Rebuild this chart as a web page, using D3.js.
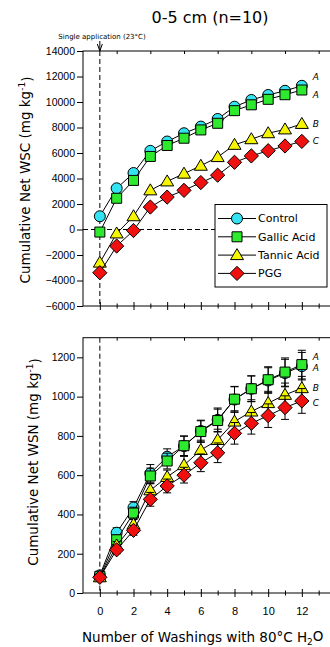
<!DOCTYPE html>
<html>
<head>
<meta charset="utf-8">
<script src="https://cdn.jsdelivr.net/npm/d3@7"></script>
<style>
  body { margin: 0; background: #fff; }
  svg { display: block; font-family: "DejaVu Sans", sans-serif; }
  .axis path, .axis line { stroke: #000; }
  .axis text { font-size: 10.5px; fill: #000; }
</style>
</head>
<body>
<div id="chart"></div>
<script>
// washings (x values)
var washings = [0, 1, 2, 3, 4, 5, 6, 7, 8, 9, 10, 11, 12];
var seriesNames = ["Control", "Gallic Acid", "Tannic Acid", "PGG"];

// cumulative net WSC (mg/kg), top panel
var wscControl = [1040, 3230, 4430, 6170, 6900, 7550, 8070, 8670, 9630, 10160, 10550, 10880, 11270];
var wscGallic  = [-200, 2450, 3850, 5730, 6590, 7160, 7810, 8330, 9320, 9780, 10210, 10570, 10940];
var wscTannic  = [-2600, -310, 1040, 3070, 3770, 4380, 5000, 5680, 6640, 7080, 7550, 7850, 8280];
var wscPGG     = [-3390, -1300, -80, 1760, 2540, 3070, 3680, 4260, 5270, 5770, 6180, 6550, 6910];

// cumulative net WSN (mg/kg), bottom panel, with error bars
var wsnControl = [90, 307, 435, 609, 694, 748, 825, 882, 985, 1040, 1082, 1120, 1155];
var wsnGallic  = [85, 271, 407, 596, 672, 750, 822, 878, 987, 1040, 1086, 1125, 1163];
var wsnTannic  = [80, 242, 349, 523, 591, 651, 728, 779, 873, 924, 967, 1009, 1043];
var wsnPGG     = [80, 220, 319, 477, 545, 600, 663, 714, 813, 864, 903, 944, 978];
var errControl = [10, 25, 30, 45, 40, 50, 55, 60, 65, 65, 65, 70, 70];
var errGallic  = [10, 25, 30, 40, 40, 50, 55, 58, 65, 66, 66, 72, 73];
var errTannic  = [10, 20, 25, 35, 35, 45, 50, 55, 55, 60, 60, 60, 60];
var errPGG     = [10, 20, 25, 35, 35, 40, 45, 50, 55, 55, 60, 60, 63];

// significance letters at the end of the curves
var letters = ["A", "A", "B", "C"];
var wscLetterY = [11980, 10600, 8270, 6960];
var wsnLetterY = [1203, 1146, 1045, 969];

var wscTicks = [-6000, -4000, -2000, 0, 2000, 4000, 6000, 8000, 10000, 12000, 14000];
var wsnTicks = [0, 200, 400, 600, 800, 1000, 1200];
var xLabelTicks = [0, 2, 4, 6, 8, 10, 12];

var colors = ["#33e3f2", "#2eea2e", "#f5f500", "#f01010"];
var symbols = [d3.symbolCircle, d3.symbolSquare, d3.symbolTriangle, d3.symbolDiamond];
var symSizes = [95, 100, 75, 85];

var width = 330, height = 647;
var svg = d3.select("#chart").append("svg")
  .attr("width", width)
  .attr("height", height);

var x = d3.scaleLinear().domain([-1, 14]).range([83, 335.5]);
var yTop = d3.scaleLinear().domain([-6000, 14000]).range([306, 51]);
var yBot = d3.scaleLinear().domain([0, 1300]).range([593, 337.7]);

function symbolPath(i) {
  // diamond in the original is a rotated square
  if (symbols[i] === d3.symbolDiamond) {
    var s = Math.sqrt(symSizes[i] * 2) / 2 + 0.6;
    return "M0," + (-s) + "L" + s + ",0L0," + s + "L" + (-s) + ",0Z";
  }
  if (symbols[i] === d3.symbolTriangle) {
    return "M0,-6.5L6.5,4.5L-6.5,4.5Z";
  }
  return d3.symbol().type(symbols[i]).size(symSizes[i])();
}

function drawPanel(y, ticks, seriesData, errData, letterY, showXLabels) {
  var x0 = x.range()[0], x1 = x.range()[1];
  var yb = y.range()[0], yt = y.range()[1];

  // frame
  svg.append("rect")
    .attr("x", x0).attr("y", yt)
    .attr("width", x1 - x0).attr("height", yb - yt)
    .attr("fill", "none").attr("stroke", "#000").attr("stroke-width", 1);

  // left axis
  svg.append("g")
    .attr("class", "axis")
    .attr("transform", "translate(" + x0 + ",0)")
    .call(d3.axisLeft(y).tickValues(ticks).tickSize(6).tickPadding(2).tickFormat(d3.format("d")))
    .call(function(g) { g.select(".domain").remove(); });

  // bottom axis: major ticks at even, minor at odd, crossing the line
  var evens = [0, 2, 4, 6, 8, 10, 12, 14];
  var odds = [1, 3, 5, 7, 9, 11, 13];
  var bx = svg.append("g")
    .attr("class", "axis")
    .attr("transform", "translate(0," + yb + ")")
    .call(d3.axisBottom(x).tickValues(evens).tickSize(4).tickFormat(""));
  bx.select(".domain").remove();
  bx.selectAll(".tick line").attr("y1", -4).attr("y2", 4);
  var bm = svg.append("g")
    .attr("class", "axis")
    .attr("transform", "translate(0," + yb + ")")
    .call(d3.axisBottom(x).tickValues(odds).tickSize(3).tickFormat(""));
  bm.select(".domain").remove();
  bm.selectAll(".tick line").attr("y1", -2.5).attr("y2", 2.5);

  if (showXLabels) {
    svg.append("g")
      .attr("class", "axis")
      .attr("transform", "translate(0," + (yb + 10) + ")")
      .call(d3.axisBottom(x).tickValues(xLabelTicks).tickSize(0).tickPadding(4))
      .call(function(g) { g.select(".domain").remove(); })
      .selectAll("text").style("font-size", "11px");
  }

  // top border ticks, inward at odd values
  var tx = svg.append("g")
    .attr("class", "axis")
    .attr("transform", "translate(0," + yt + ")")
    .call(d3.axisTop(x).tickValues(odds).tickSize(-3).tickFormat(""));
  tx.select(".domain").remove();

  // vertical dashed line at washing 0
  svg.append("line")
    .attr("x1", x(0)).attr("x2", x(0))
    .attr("y1", yt).attr("y2", yb)
    .attr("stroke", "#000").attr("stroke-width", 1)
    .attr("stroke-dasharray", "5,3");

  var line = d3.line()
    .x(function(d) { return x(d[0]); })
    .y(function(d) { return y(d[1]); });

  seriesData.forEach(function(vals, i) {
    var pts = d3.zip(washings, vals);
    var g = svg.append("g");
    g.append("path")
      .attr("d", line(pts))
      .attr("fill", "none").attr("stroke", "#000").attr("stroke-width", 1);
    if (errData) {
      var errs = errData[i];
      pts.forEach(function(d, k) {
        var hi = y(d[1] + errs[k]), lo = y(d[1] - errs[k]);
        g.append("line")
          .attr("x1", x(d[0])).attr("x2", x(d[0]))
          .attr("y1", hi).attr("y2", lo)
          .attr("stroke", "#000").attr("stroke-width", 1);
        [hi, lo].forEach(function(yy) {
          g.append("line")
            .attr("x1", x(d[0]) - 4).attr("x2", x(d[0]) + 4)
            .attr("y1", yy).attr("y2", yy)
            .attr("stroke", "#000").attr("stroke-width", 1);
        });
      });
    }
    g.selectAll("path.pt")
      .data(pts)
      .enter().append("path")
      .attr("class", "pt")
      .attr("d", symbolPath(i))
      .attr("transform", function(d) { return "translate(" + x(d[0]) + "," + y(d[1]) + ")"; })
      .attr("fill", colors[i])
      .attr("stroke", "#000").attr("stroke-width", 1);
  });

  letters.forEach(function(l, i) {
    svg.append("text")
      .attr("x", x(12) + 11)
      .attr("y", y(letterY[i]))
      .attr("dy", "0.35em")
      .style("font-size", "9px")
      .style("font-style", "italic")
      .text(l);
  });
}

// title
svg.append("text")
  .attr("x", 210).attr("y", 23)
  .attr("text-anchor", "middle")
  .style("font-size", "16px")
  .text("0-5 cm (n=10)");

// top panel: horizontal dashed zero line (under the legend)
svg.append("line")
  .attr("x1", x.range()[0]).attr("x2", 215)
  .attr("y1", yTop(0)).attr("y2", yTop(0))
  .attr("stroke", "#000").attr("stroke-width", 1)
  .attr("stroke-dasharray", "5,3");

drawPanel(yTop, wscTicks, [wscControl, wscGallic, wscTannic, wscPGG], null, wscLetterY, false);
drawPanel(yBot, wsnTicks, [wsnControl, wsnGallic, wsnTannic, wsnPGG],
  [errControl, errGallic, errTannic, errPGG], wsnLetterY, true);

// arrow for single application
svg.append("text")
  .attr("x", 102).attr("y", 39)
  .attr("text-anchor", "middle")
  .style("font-size", "7px")
  .text("Single application (23°C)");
svg.append("line")
  .attr("x1", x(0)).attr("x2", x(0))
  .attr("y1", 41).attr("y2", 51)
  .attr("stroke", "#000");
svg.append("path")
  .attr("d", "M" + (x(0) - 2.5) + ",44L" + x(0) + ",51L" + (x(0) + 2.5) + ",44")
  .attr("fill", "none").attr("stroke", "#000");

// legend
var legend = svg.append("g").attr("transform", "translate(215,204.5)");
legend.append("rect")
  .attr("width", 112).attr("height", 82.5)
  .attr("fill", "#fff").attr("stroke", "#000").attr("stroke-width", 1);
seriesNames.forEach(function(name, i) {
  var ly = 14 + i * 18.3;
  legend.append("line")
    .attr("x1", 3).attr("x2", 41)
    .attr("y1", ly).attr("y2", ly)
    .attr("stroke", "#000");
  legend.append("path")
    .attr("d", symbolPath(i))
    .attr("transform", "translate(22," + ly + ")")
    .attr("fill", colors[i]).attr("stroke", "#000");
  legend.append("text")
    .attr("x", 43).attr("y", ly).attr("dy", "0.35em")
    .style("font-size", "11px")
    .text(name);
});

// y axis titles
function yTitle(cx, cy, label) {
  var t = svg.append("text")
    .attr("transform", "translate(" + cx + "," + cy + ") rotate(-90)")
    .attr("text-anchor", "middle")
    .attr("dy", "0.35em")
    .style("font-size", "13.5px");
  t.append("tspan").text(label + " (mg kg");
  t.append("tspan").attr("dy", "-0.5em").style("font-size", "9px").text("-1");
  t.append("tspan").attr("dy", "0.5em").text(")");
}
yTitle(25, 180, "Cumulative Net WSC");
yTitle(33, 462, "Cumulative Net WSN");

// x axis title
var xt = svg.append("text")
  .attr("x", 82).attr("y", 642)
  .style("font-size", "13.5px");
xt.append("tspan").text("Number of Washings with 80°C H");
xt.append("tspan").attr("dy", "0.3em").style("font-size", "9px").text("2");
xt.append("tspan").attr("dy", "-0.3em").text("O");
</script>
</body>
</html>
